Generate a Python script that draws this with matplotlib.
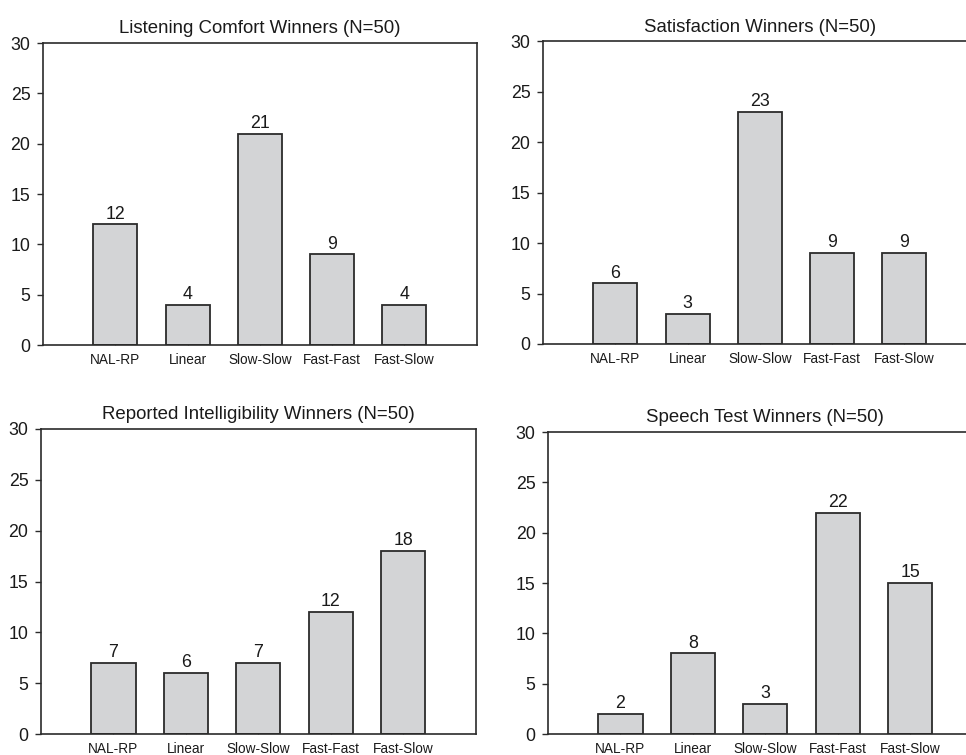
import numpy as np
import matplotlib
matplotlib.use('Agg')
import matplotlib.pyplot as plt

plt.rcParams['font.family'] = ['Liberation Sans', 'DejaVu Sans']

categories = ['NAL-RP', 'Linear', 'Slow-Slow', 'Fast-Fast', 'Fast-Slow']

titles = ['Listening Comfort Winners (N=50)',
          'Satisfaction Winners (N=50)',
          'Reported Intelligibility Winners (N=50)',
          'Speech Test Winners (N=50)']

comfort = [12, 4, 21, 9, 4]
satisfaction = [6, 3, 23, 9, 9]
intelligibility = [7, 6, 7, 12, 18]
speech = [2, 8, 3, 22, 15]

yticks = [0, 5, 10, 15, 20, 25, 30]

# axes boxes in figure fractions [left, bottom, width, height]
boxes = [[0.0445, 0.543, 0.449, 0.400],
         [0.5621, 0.5444, 0.449, 0.401],
         [0.0424, 0.0278, 0.450, 0.404],
         [0.5673, 0.0278, 0.450, 0.400]]

bar_color = '#d3d4d6'
edge_color = '#2b2b2b'
text_color = '#1a1a1a'


def draw_panel(ax, values, title):
    x = np.arange(len(categories))
    bars = ax.bar(x, values, width=0.61, color=bar_color,
                  edgecolor=edge_color, linewidth=1.3, zorder=2)
    for b, v in zip(bars, values):
        ax.annotate(str(v), (b.get_x() + b.get_width() / 2, v),
                    xytext=(0, 1.2), textcoords='offset points',
                    ha='center', va='bottom', fontsize=12.8, color=text_color)
    ax.set_xlim(-1, 5)
    ax.set_ylim(0, 30)
    ax.set_yticks(yticks)
    ax.set_xticks(x)
    ax.set_xticklabels(categories)
    ax.tick_params(axis='y', direction='out', length=4.5, width=1,
                   labelsize=12.8, pad=4.5, colors=edge_color,
                   labelcolor=text_color)
    ax.tick_params(axis='x', direction='in', length=2.5, width=0.8,
                   labelsize=9.8, pad=5.5, colors='#777777',
                   labelcolor=text_color)
    for s in ax.spines.values():
        s.set_linewidth(1.2)
        s.set_color(edge_color)
    ax.set_title(title, fontsize=13.4, color=text_color, pad=7)


fig = plt.figure(figsize=(9.66, 7.55), dpi=100)
for box, vals, t in zip(boxes, [comfort, satisfaction, intelligibility, speech], titles):
    ax = fig.add_axes(box)
    draw_panel(ax, vals, t)

fig.savefig('out.png', dpi=100)
